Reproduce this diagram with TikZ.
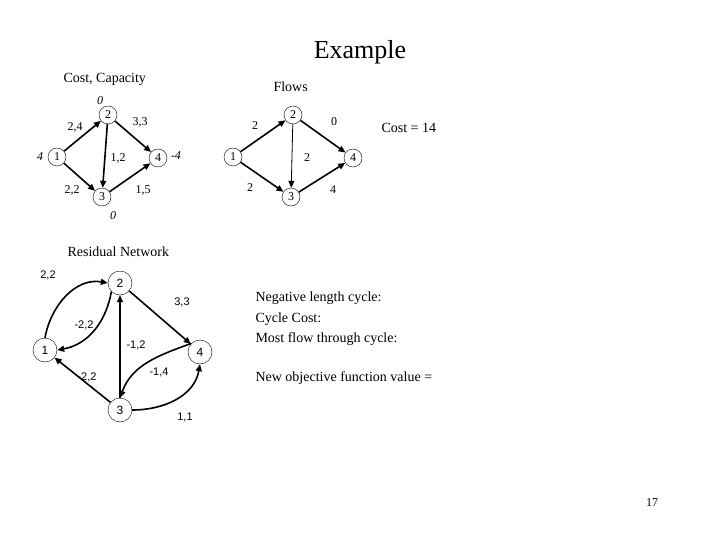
\documentclass[tikz,border=0pt]{standalone}
\usepackage{fontspec}
\setmainfont{Liberation Serif}
\newfontfamily\arial{Liberation Sans}
\usetikzlibrary{arrows.meta}
\begin{document}
\begin{tikzpicture}[x=1pt,y=-1pt,
 sn/.style={circle,draw,minimum size=18pt,inner sep=0pt,font=\fontsize{12}{12}\selectfont},
 bn/.style={circle,draw,minimum size=24pt,inner sep=0pt,font=\arial\fontsize{12}{12}\selectfont},
 arc/.style={-{Triangle[length=7pt,width=6pt]},line width=1.6pt},
 thinarc/.style={-{Triangle[length=7pt,width=6pt]},line width=0.8pt},
 lb/.style={font=\fontsize{12}{12}\selectfont},
 il/.style={font=\itshape\fontsize{12}{12}\selectfont},
 al/.style={font=\arial\fontsize{11}{11}\selectfont},
 tx/.style={font=\fontsize{14}{14}\selectfont,anchor=west}]
\path[use as bounding box] (0,0) rectangle (720,540);
\node[font=\fontsize{26}{26}\selectfont] (title) at (360,52) {Example};
\node[tx] (cc) at (60,79) {Cost, Capacity};
\node[tx] (fl) at (270,87) {Flows};
\node[tx] (cost) at (378,128) {Cost = 14};
% left graph
\node[sn] (a1) at (57,157) {1};
\node[sn] (a2) at (108,115) {2};
\node[sn] (a3) at (102,197) {3};
\node[sn] (a4) at (158,158) {4};
\draw[arc] (a1) -- (a2);
\draw[arc] (a1) -- (a3);
\draw[arc] (a2) -- (a3);
\draw[arc] (a2) -- (a4);
\draw[arc] (a3) -- (a4);
\node[il] (s1) at (40,157) {4};
\node[il] (s2) at (100,101) {0};
\node[il] (s3) at (113,216) {0};
\node[il] (s4) at (176,156) {-4};
\node[lb] (l12) at (75,127) {2,4};
\node[lb] (l13) at (72,190) {2,2};
\node[lb] (l23) at (118,158) {1,2};
\node[lb] (l24) at (140,122) {3,3};
\node[lb] (l34) at (143,190) {1,5};
% right graph
\node[sn] (b1) at (233,157) {1};
\node[sn] (b2) at (293,115) {2};
\node[sn] (b3) at (291,197) {3};
\node[sn] (b4) at (353,158) {4};
\draw[arc] (b1) -- (b2);
\draw[arc] (b1) -- (b3);
\draw[thinarc] (b2) -- (b3);
\draw[arc] (b2) -- (b4);
\draw[arc] (b3) -- (b4);
\node[lb] (m12) at (255,126) {2};
\node[lb] (m13) at (250,188) {2};
\node[lb] (m23) at (307,158) {2};
\node[lb] (m24) at (334,122) {0};
\node[lb] (m34) at (333,190) {4};
% residual
\node[tx] (rn) at (64,252) {Residual Network};
\node[bn] (c1) at (45,350) {1};
\node[bn] (c2) at (120,283) {2};
\node[bn] (c3) at (120,410) {3};
\node[bn] (c4) at (200,352) {4};
\draw[arc] (c1.north) to[out=80,in=170] (c2.west);
\draw[arc] (c2.south west) to[out=-100,in=10] (c1.east);
\draw[arc] (c2) -- (c4);
\draw[arc] (c3) -- (c2);
\draw[arc] (c3) -- (c1);
\draw[arc] (c4.north west) to[out=200,in=70] (c3.north);
\draw[arc] (c3.east) to[out=0,in=-100] (c4.south);
\node[al] (r1) at (48,275) {2,2};
\node[al] (r2) at (84,325) {-2,2};
\node[al] (r3) at (182,302) {3,3};
\node[al] (r4) at (136,345) {-1,2};
\node[al] (r5) at (87,377) {-2,2};
\node[al] (r6) at (159,372) {-1,4};
\node[al] (r7) at (185,417) {1,1};
\node[tx] (t1) at (252,298) {Negative length cycle:};
\node[tx] (t2) at (252,319) {Cycle Cost:};
\node[tx] (t3) at (252,339) {Most flow through cycle:};
\node[tx] (t4) at (252,378) {New objective function value =};
\node[font=\fontsize{12}{12}\selectfont] (pg) at (652,503) {17};
\end{tikzpicture}
\end{document}
